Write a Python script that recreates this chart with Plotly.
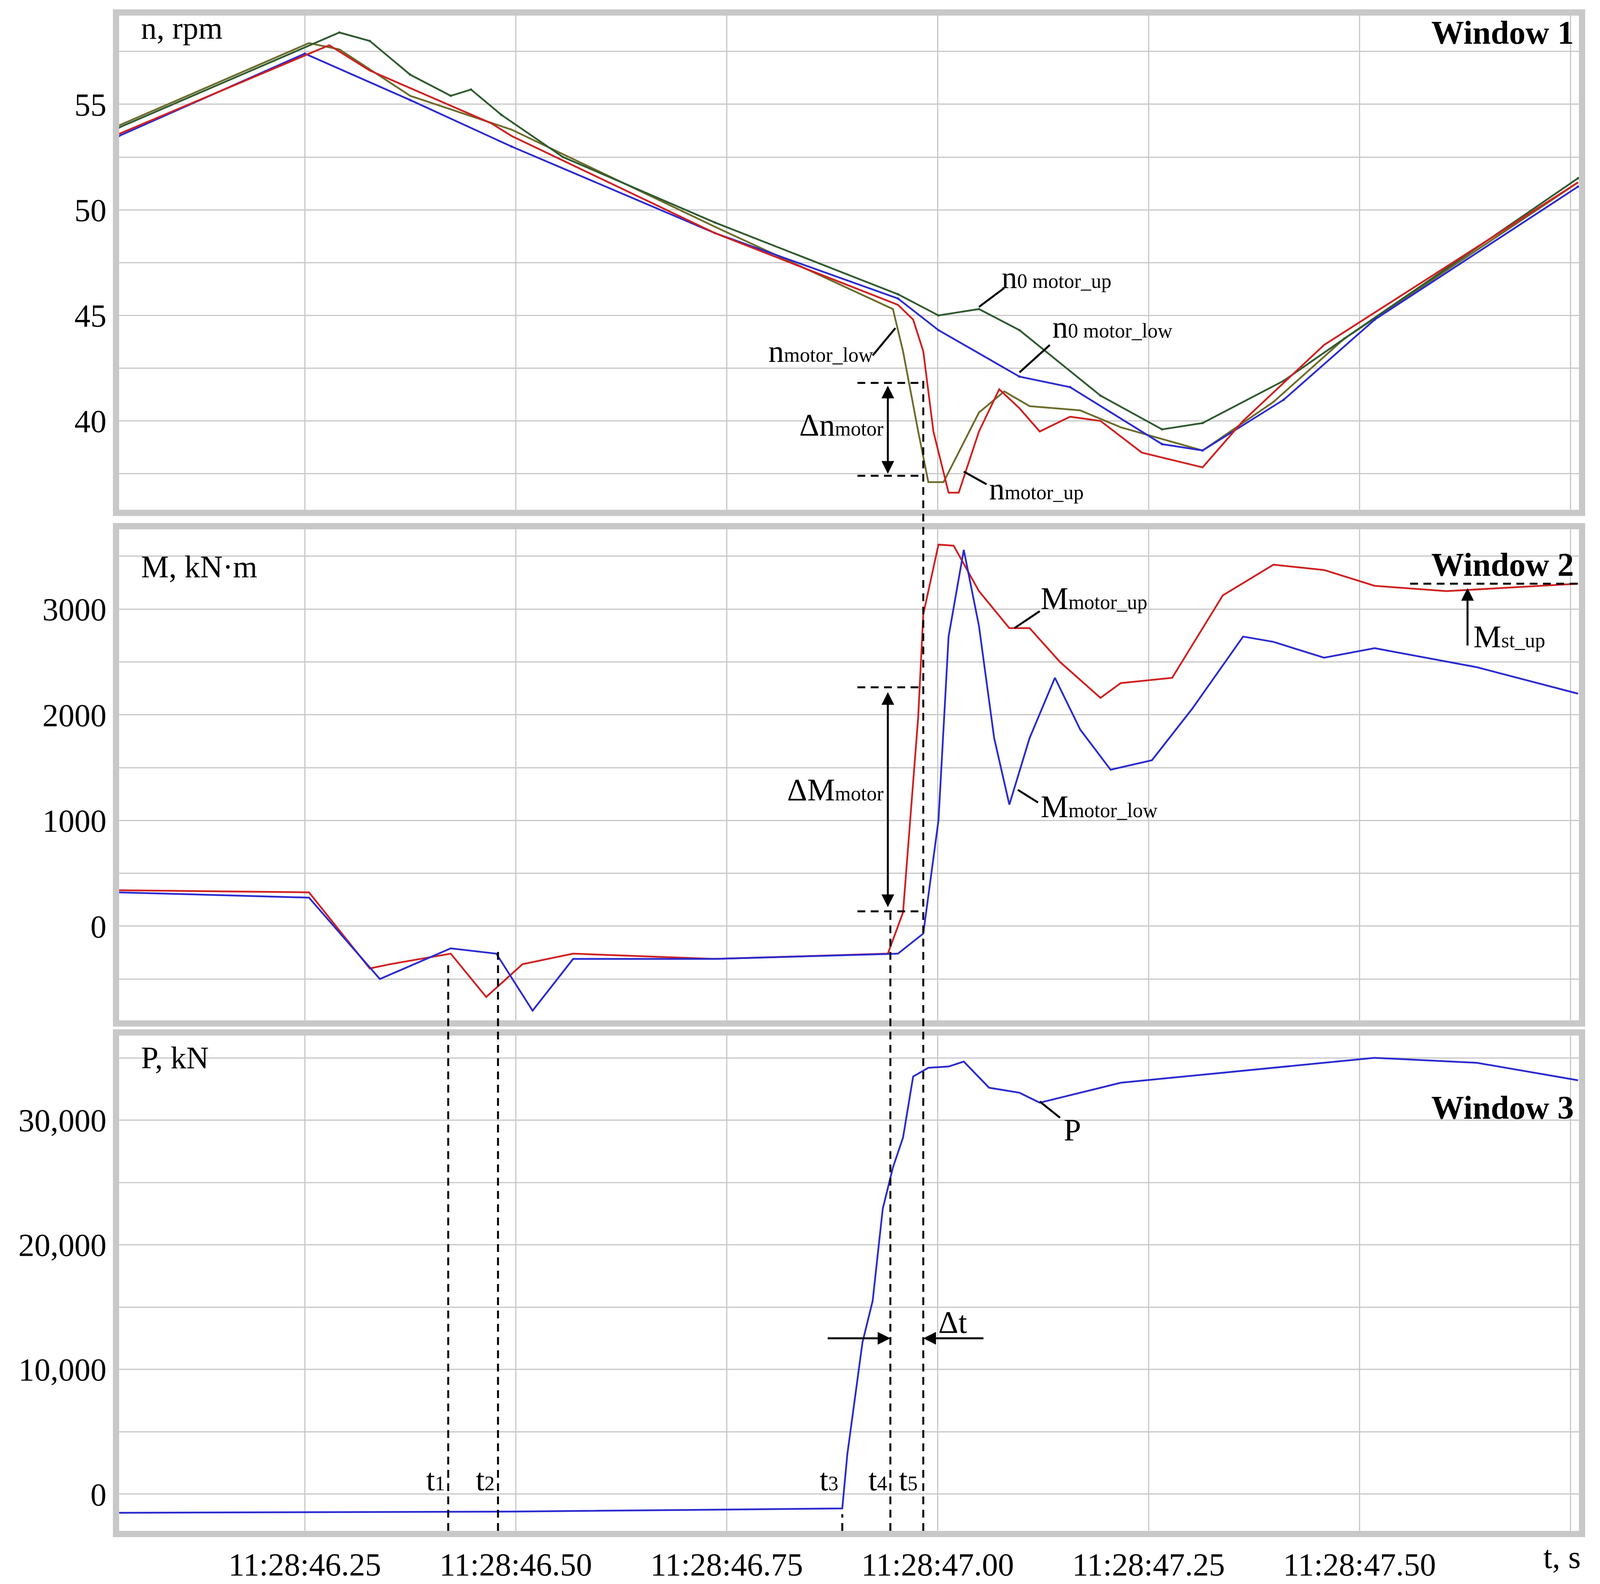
import plotly.graph_objects as go
from plotly.subplots import make_subplots

# Window 1: speeds (time in seconds after 11:28:00)
t_blue = [46.030,46.250,46.375,46.495,46.736,46.953,47.001,47.097,47.157,47.266,47.314,47.410,47.518,47.759]
n_blue = [53.5,57.4,55.2,53.0,48.9,45.8,44.3,42.1,41.6,38.9,38.6,41.0,44.8,51.1]
t_red = [46.030,46.279,46.327,46.471,46.495,46.736,46.953,46.971,46.983,46.995,47.013,47.025,47.049,47.073,47.097,47.121,47.157,47.193,47.242,47.314,47.362,47.458,47.759]
n_red = [53.6,57.8,56.6,54.1,53.5,48.9,45.5,44.8,43.3,39.5,36.6,36.6,39.5,41.5,40.6,39.5,40.2,40.0,38.5,37.8,40.0,43.6,51.3]
t_green = [46.030,46.291,46.327,46.375,46.423,46.447,46.483,46.556,46.736,46.953,47.001,47.049,47.097,47.193,47.266,47.314,47.410,47.482,47.759]
n_green = [53.9,58.4,58.0,56.4,55.4,55.7,54.5,52.5,49.4,46.0,45.0,45.3,44.3,41.2,39.6,39.9,41.9,43.9,51.5]
t_olive = [46.030,46.255,46.291,46.375,46.495,46.736,46.947,46.959,46.977,46.989,47.007,47.025,47.049,47.079,47.109,47.169,47.217,47.314,47.398,47.482,47.759]
n_olive = [54.0,57.9,57.6,55.4,53.8,49.2,45.3,43.3,39.5,37.1,37.1,38.5,40.4,41.4,40.7,40.5,39.7,38.6,40.9,43.9,51.3]
# Window 2: torques
t_mup = [46.030,46.255,46.327,46.351,46.423,46.465,46.508,46.568,46.736,46.941,46.959,46.977,46.983,47.001,47.019,47.049,47.085,47.109,47.145,47.193,47.217,47.278,47.338,47.398,47.458,47.518,47.603,47.759]
m_up = [340,320,-400,-360,-260,-670,-360,-260,-310,-260,130,1980,2950,3610,3600,3170,2820,2820,2500,2160,2300,2350,3130,3420,3370,3220,3170,3240]
t_mlow = [46.030,46.255,46.339,46.423,46.477,46.520,46.568,46.736,46.953,46.983,47.001,47.013,47.031,47.049,47.067,47.085,47.109,47.139,47.169,47.205,47.254,47.302,47.362,47.398,47.458,47.518,47.639,47.759]
m_low = [320,270,-500,-210,-260,-800,-310,-310,-260,-70,1000,2740,3560,2840,1780,1150,1780,2350,1860,1480,1570,2060,2740,2690,2540,2630,2450,2200]
# Window 3: force
t_p = [46.030,46.500,46.887,46.893,46.911,46.923,46.935,46.947,46.959,46.971,46.989,47.013,47.031,47.061,47.097,47.121,47.217,47.338,47.518,47.639,47.759]
p = [-1500,-1400,-1150,3200,12200,15500,22900,26200,28600,33500,34200,34300,34700,32600,32200,31400,33000,33800,35000,34600,33200]

tick_t = [46.25,46.50,46.75,47.00,47.25,47.50,47.75]
tick_lab = ["11:28:46.25","11:28:46.50","11:28:46.75","11:28:47.00","11:28:47.25","11:28:47.50",""]

FONT = "Liberation Serif"
fig = make_subplots(rows=3, cols=1, shared_xaxes=True)
lw = 4.5
fig.add_trace(go.Scatter(x=t_olive, y=n_olive, line=dict(color="#6b6b2a", width=lw)), 1, 1)
fig.add_trace(go.Scatter(x=t_green, y=n_green, line=dict(color="#2f5a2f", width=lw)), 1, 1)
fig.add_trace(go.Scatter(x=t_blue, y=n_blue, line=dict(color="#2a2ad0", width=lw)), 1, 1)
fig.add_trace(go.Scatter(x=t_red, y=n_red, line=dict(color="#d02020", width=lw)), 1, 1)
fig.add_trace(go.Scatter(x=t_mup, y=m_up, line=dict(color="#d02020", width=lw)), 2, 1)
fig.add_trace(go.Scatter(x=t_mlow, y=m_low, line=dict(color="#2a2ad0", width=lw)), 2, 1)
fig.add_trace(go.Scatter(x=t_p, y=p, line=dict(color="#2a2ad0", width=lw)), 3, 1)

ax = dict(showline=True, linecolor="#c8c8c8", linewidth=16, mirror=True,
          gridcolor="#c8c8c8", gridwidth=3, zeroline=False,
          tickfont=dict(family=FONT, size=82, color="black"), ticks="")
for i in (1, 2, 3):
    fig.update_xaxes(range=[46.03, 47.76], tickvals=tick_t, ticktext=tick_lab,
                     showticklabels=(i == 3), row=i, col=1, **ax)
fig.update_yaxes(range=[35.8, 59.2], tickvals=[37.5,40,42.5,45,47.5,50,52.5,55,57.5],
                 ticktext=["","40","","45","","50","","55",""], row=1, col=1, **ax)
fig.update_yaxes(range=[-890, 3755], tickvals=[-500,0,500,1000,1500,2000,2500,3000,3500],
                 ticktext=["","0","","1000","","2000","","3000",""], row=2, col=1, **ax)
fig.update_yaxes(range=[-2950, 36800], tickvals=[0,5000,10000,15000,20000,25000,30000,35000],
                 ticktext=["0","","10,000","","20,000","","30,000",""], row=3, col=1, **ax)
fig.update_layout(yaxis=dict(domain=[0.674, 1]), yaxis2=dict(domain=[0.337, 0.661]),
                  yaxis3=dict(domain=[0, 0.327]))

fig.update_layout(width=4124, height=4055, showlegend=False, plot_bgcolor="white",
                  paper_bgcolor="white", margin=dict(l=297, r=90, t=32, b=126),
                  font=dict(family=FONT, size=80, color="black"))

dash = dict(color="black", width=5, dash="20px,14px")
for tx, ytop in [(46.420, 0.374), (46.479, 0.384), (46.887, 0.011), (46.944, 0.408), (46.983, 0.759)]:
    fig.add_shape(type="line", xref="x3", yref="paper", x0=tx, x1=tx, y0=0, y1=ytop, line=dash)
for yv in (41.8, 37.4):
    fig.add_shape(type="line", xref="x", yref="y", x0=46.905, x1=46.983, y0=yv, y1=yv, line=dash)
for yv in (2260, 140):
    fig.add_shape(type="line", xref="x2", yref="y2", x0=46.905, x1=46.983, y0=yv, y1=yv, line=dash)
fig.add_shape(type="line", xref="x2", yref="y2", x0=47.56, x1=47.76, y0=3240, y1=3240, line=dash)

def arrow(x, y, axv, ayv, xr, yr, both=False):
    fig.add_annotation(x=x, y=y, ax=axv, ay=ayv, xref=xr, yref=yr, axref=xr, ayref=yr,
                       text="", showarrow=True, arrowhead=2, arrowsize=1.3, arrowwidth=5,
                       arrowcolor="black", arrowside="end+start" if both else "end")
arrow(46.941, 37.5, 46.941, 41.7, "x", "y", True)
arrow(46.941, 180, 46.941, 2220, "x2", "y2", True)
arrow(47.628, 3200, 47.628, 2650, "x2", "y2")
arrow(46.944, 12500, 46.869, 12500, "x3", "y3")
arrow(46.983, 12500, 47.055, 12500, "x3", "y3")

def leader(x0, y0, x1, y1, xr, yr):
    fig.add_shape(type="line", xref=xr, yref=yr, x0=x0, y0=y0, x1=x1, y1=y1,
                  line=dict(color="black", width=5))
leader(47.049, 45.4, 47.079, 46.3, "x", "y")
leader(47.097, 42.3, 47.133, 43.6, "x", "y")
leader(46.923, 43.1, 46.950, 44.4, "x", "y")
leader(47.031, 37.6, 47.058, 37.0, "x", "y")
leader(47.091, 2820, 47.121, 2980, "x2", "y2")
leader(47.095, 1290, 47.119, 1170, "x2", "y2")
leader(47.121, 31500, 47.145, 30200, "x3", "y3")

def txt(x, y, s, xr, yr, anchor="left", size=80):
    fig.add_annotation(x=x, y=y, xref=xr, yref=yr, text=s, showarrow=False,
                       xanchor=anchor, font=dict(size=size))
sub = lambda a, b: f"{a}<span style='font-size:52px'>{b}</span>"
txt(47.075, 46.8, sub("n", "0 motor_up"), "x", "y")
txt(47.135, 44.45, sub("n", "0 motor_low"), "x", "y")
txt(46.925, 43.3, sub("n", "motor_low"), "x", "y", "right")
txt(46.937, 39.8, sub("Δn", "motor"), "x", "y", "right")
txt(47.060, 36.8, sub("n", "motor_up"), "x", "y")
txt(47.121, 3100, sub("M", "motor_up"), "x2", "y2")
txt(47.121, 1130, sub("M", "motor_low"), "x2", "y2")
txt(46.937, 1290, sub("ΔM", "motor"), "x2", "y2", "right")
txt(47.634, 2740, sub("M", "st_up"), "x2", "y2")
txt(47.160, 29200, "P", "x3", "y3", "center")
txt(47.000, 13800, "Δt", "x3", "y3")
for tx, lab in [(46.405, "t1"), (46.464, "t2"), (46.871, "t3"), (46.929, "t4"), (46.965, "t5")]:
    txt(tx, 1150, sub(lab[0], lab[1]), "x3", "y3", "center")
txt(46.055, 58.6, "n, rpm", "x", "y")
txt(46.055, 3400, "M, kN·m", "x2", "y2")
txt(46.055, 35000, "P, kN", "x3", "y3")
txt(47.755, 58.4, "<b>Window 1</b>", "x", "y", "right", 84)
txt(47.755, 3420, "<b>Window 2</b>", "x2", "y2", "right", 84)
txt(47.755, 31000, "<b>Window 3</b>", "x3", "y3", "right", 84)
fig.add_annotation(x=47.74, y=0, xref="x3", yref="paper", yshift=-20, yanchor="top",
                   text="t, s", showarrow=False, font=dict(size=82))

fig.write_html("out.html")
